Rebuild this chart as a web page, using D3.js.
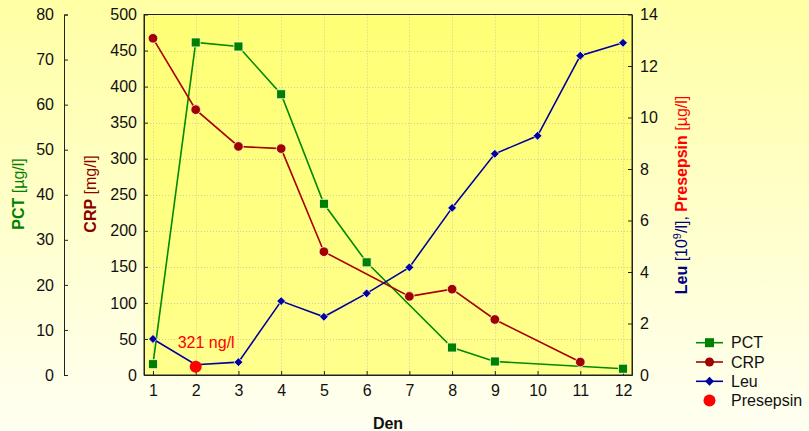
<!DOCTYPE html>
<html><head><meta charset="utf-8">
<script src="https://cdn.jsdelivr.net/npm/d3@7"></script>
<style>
html,body{margin:0;padding:0;overflow:hidden;}
svg{display:block;font-family:"Liberation Sans",Arial,sans-serif;}
</style></head>
<body>
<svg id="c" width="809" height="431"></svg>
<script>
const days = [1,2,3,4,5,6,7,8,9,10,11,12];
const pctDays = [1,2,3,4,5,6,8,9,12];
const pctValues = [2.4,73.8,72.9,62.3,38.0,25.0,6.1,3.0,1.4];
const crpDays = [1,2,3,4,5,7,8,9,11];
const crpValues = [467,368,317,314,171,109,119,77,18];
const leuDays = [1,2,3,4,5,6,7,8,9,10,11,12];
const leuValues = [1.4,0.4,0.5,2.87,2.26,3.17,4.18,6.49,8.59,9.29,12.4,12.9];
const presepsinDay = [2];
const presepsinValues = [0.321];
const pctTicks = [0,10,20,30,40,50,60,70,80];
const crpTicks = [0,50,100,150,200,250,300,350,400,450,500];
const leuTicks = [0,2,4,6,8,10,12,14];

const svg = d3.select("#c");
const W = 809, H = 431;
const L = 144, R = 632, T = 14.5, B = 375;

const defs = svg.append("defs");
const bg = defs.append("linearGradient").attr("id","bg").attr("x1",0).attr("y1",0).attr("x2",0).attr("y2",1);
bg.append("stop").attr("offset","0%").attr("stop-color","#ffffa4");
bg.append("stop").attr("offset","100%").attr("stop-color","#fffff2");
const pg = defs.append("linearGradient").attr("id","pg").attr("x1",0).attr("y1",0).attr("x2",0).attr("y2",1);
pg.append("stop").attr("offset","0%").attr("stop-color","#ffff76");
pg.append("stop").attr("offset","100%").attr("stop-color","#ffff8c");

svg.append("rect").attr("width",W).attr("height",H).attr("fill","url(#bg)");
svg.append("rect").attr("x",L).attr("y",T).attr("width",R-L).attr("height",B-T).attr("fill","url(#pg)");

const x = d3.scaleLinear().domain([0.79,12.21]).range([L,R]);
const yPct = d3.scaleLinear().domain([0,80]).range([B,T]);
const yCrp = d3.scaleLinear().domain([0,500]).range([B,T]);
const yLeu = d3.scaleLinear().domain([0,14]).range([B,T]);

// grid
const grid = svg.append("g").attr("stroke","#cfcf9a").attr("stroke-width",1).attr("stroke-dasharray","1,2");
crpTicks.filter(t=>t>0&&t<500).forEach(t=>{
  grid.append("line").attr("x1",L).attr("x2",R).attr("y1",Math.round(yCrp(t))+0.5).attr("y2",Math.round(yCrp(t))+0.5);
});
days.forEach(d=>{
  grid.append("line").attr("y1",T).attr("y2",B).attr("x1",Math.round(x(d))+0.5).attr("x2",Math.round(x(d))+0.5);
});

// axes
const fs = "16px";
function styleAxis(g){
  g.selectAll("path,line").attr("stroke","#222").attr("stroke-width",1);
  g.selectAll("text").attr("font-size",fs).attr("fill","#111").attr("font-family","Liberation Sans, Arial, sans-serif");
}
const gp = svg.append("g").attr("transform","translate(64,0)")
  .call(d3.axisLeft(yPct).tickValues(pctTicks).tickSize(-4).tickSizeOuter(-4).tickPadding(10));
styleAxis(gp);
const gc = svg.append("g").attr("transform",`translate(${L},0)`)
  .call(d3.axisLeft(yCrp).tickValues(crpTicks).tickSize(-4).tickSizeOuter(0).tickPadding(7));
styleAxis(gc);
const gl = svg.append("g").attr("transform",`translate(${R},0)`)
  .call(d3.axisRight(yLeu).tickValues(leuTicks).tickSize(-4).tickSizeOuter(0).tickPadding(8));
styleAxis(gl);
const gx = svg.append("g").attr("transform",`translate(0,${B})`)
  .call(d3.axisBottom(x).tickValues(days).tickFormat(d3.format("d")).tickSize(-4).tickSizeOuter(0).tickPadding(10));
styleAxis(gx);
svg.append("rect").attr("x",L).attr("y",T).attr("width",R-L).attr("height",B-T)
  .attr("fill","none").attr("stroke","#222").attr("stroke-width",1);

// series
const halo = "#ffffd0";
function line(daysArr, vals, ys, color){
  svg.append("path").datum(daysArr.map((d,i)=>[d,vals[i]]))
    .attr("fill","none").attr("stroke",color).attr("stroke-width",1.6)
    .attr("d", d3.line().x(d=>x(d[0])).y(d=>ys(d[1])));
}
const cPct = "#008a00", cCrp = "#a80000", cLeu = "#0000a0", cPres = "#ff0000";
line(pctDays,pctValues,yPct,cPct);
line(crpDays,crpValues,yCrp,cCrp);
line(leuDays,leuValues,yLeu,cLeu);

svg.append("g").selectAll("rect").data(pctDays.map((d,i)=>[d,pctValues[i]])).join("rect")
  .attr("x",d=>x(d[0])-4.5).attr("y",d=>yPct(d[1])-4.5).attr("width",9).attr("height",9)
  .attr("fill","#008000").attr("stroke",halo).attr("stroke-width",0.8);
svg.append("g").selectAll("circle").data(crpDays.map((d,i)=>[d,crpValues[i]])).join("circle")
  .attr("cx",d=>x(d[0])).attr("cy",d=>yCrp(d[1])).attr("r",4.8)
  .attr("fill","#a00000").attr("stroke",halo).attr("stroke-width",0.8);
const diamond = d3.symbol().type(d3.symbolDiamond2).size(50);
svg.append("g").selectAll("path").data(leuDays.map((d,i)=>[d,leuValues[i]])).join("path")
  .attr("transform",d=>`translate(${x(d[0])},${yLeu(d[1])})`).attr("d",diamond)
  .attr("fill","#0000a0").attr("stroke",halo).attr("stroke-width",0.8);
svg.append("g").selectAll("circle").data(presepsinDay.map((d,i)=>[d,presepsinValues[i]])).join("circle")
  .attr("cx",d=>x(d[0])).attr("cy",d=>yLeu(d[1])).attr("r",6)
  .attr("fill",cPres);
svg.append("text").attr("x",x(presepsinDay[0])-18).attr("y",348).attr("font-size",fs).attr("fill",cPres)
  .text(Math.round(presepsinValues[0]*1000)+" ng/l");

// axis titles
function rotTitle(cx, cy, parts){
  const t = svg.append("text").attr("transform",`translate(${cx},${cy}) rotate(-90)`)
    .attr("text-anchor","middle").attr("font-size",fs);
  parts.forEach(p=>{
    const s = t.append("tspan").text(p.t).attr("fill",p.c);
    if(p.b) s.attr("font-weight","bold");
    if(p.sup){ s.attr("font-size","11px").attr("dy",-6); }
    if(p.dy) s.attr("dy",p.dy);
  });
}
rotTitle(24,194,[{t:"PCT",c:"#008000",b:true},{t:" [µg/l]",c:"#008000"}]);
rotTitle(96,194,[{t:"CRP",c:"#8b0000",b:true},{t:" [mg/l]",c:"#8b0000"}]);
rotTitle(687,195,[{t:"Leu",c:"#000080",b:true},{t:" [10",c:"#000080"},{t:"9",c:"#000080",sup:true},{t:"/l],",c:"#000080",dy:6},{t:" ",c:"#000080"},{t:"Presepsin",c:"#ff0000",b:true},{t:" [µg/l]",c:"#ff0000"}]);

svg.append("text").attr("x",(L+R)/2).attr("y",429).attr("text-anchor","middle")
  .attr("font-size",fs).attr("font-weight","bold").attr("fill","#111").text("Den");

// legend
const leg = [
  {n:"PCT",c:cPct,m:"sq"},{n:"CRP",c:cCrp,m:"ci"},{n:"Leu",c:cLeu,m:"di"},{n:"Presepsin",c:cPres,m:"big"}
];
leg.forEach((l,i)=>{
  const y0 = 342.7 + i*19.3;
  const g = svg.append("g");
  if(l.m!=="big") g.append("line").attr("x1",696).attr("x2",723).attr("y1",y0).attr("y2",y0).attr("stroke",l.c).attr("stroke-width",1.6);
  if(l.m==="sq") g.append("rect").attr("x",705).attr("y",y0-4.5).attr("width",9).attr("height",9).attr("fill","#008000");
  if(l.m==="ci") g.append("circle").attr("cx",709.5).attr("cy",y0).attr("r",4.5).attr("fill","#a00000");
  if(l.m==="di") g.append("path").attr("transform",`translate(709.5,${y0})`).attr("d",diamond).attr("fill","#0000a0");
  if(l.m==="big") g.append("circle").attr("cx",709.5).attr("cy",y0).attr("r",6).attr("fill",cPres);
  g.append("text").attr("x",731).attr("y",y0+5.5).attr("font-size",fs).attr("fill","#111").text(l.n);
});
</script>
</body></html>
